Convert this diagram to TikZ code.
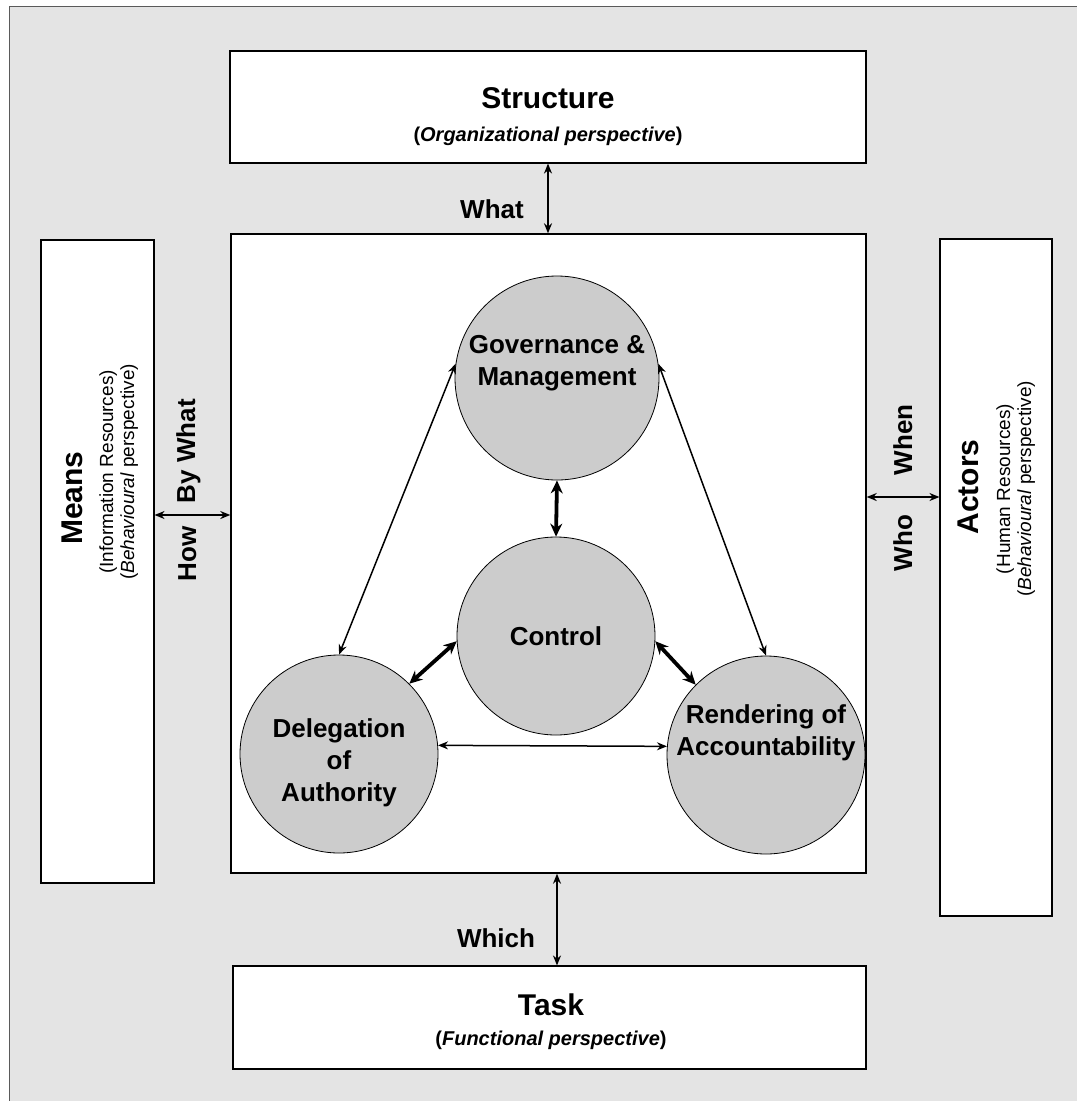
\documentclass[tikz,border=0pt]{standalone}
\usepackage{fontspec}
\setmainfont{Liberation Sans}
\usetikzlibrary{arrows.meta}
\definecolor{panel}{HTML}{E4E4E4}
\definecolor{discfill}{HTML}{CCCCCC}
\definecolor{rim}{HTML}{5A5A5A}

\begin{document}
\begin{tikzpicture}[x=1pt,y=-1pt,
  box/.style={draw=black,line width=1.1pt,fill=white,inner sep=0pt},
  disc/.style={circle,draw=black,line width=0.8pt,fill=discfill,minimum size=198pt,inner sep=0pt},
  disctext/.style={font=\fontsize{26}{32}\selectfont\bfseries,align=center,inner sep=0pt},
  tag/.style={font=\fontsize{26}{31}\selectfont\bfseries,inner sep=0pt,anchor=base},
  title/.style={font=\fontsize{30}{36}\selectfont\bfseries,inner sep=0pt,anchor=base},
  subtitle/.style={font=\fontsize{20}{24}\selectfont\bfseries,inner sep=0pt,anchor=base},
  sidetitle/.style={font=\fontsize{30}{36}\selectfont\bfseries,inner sep=0pt,anchor=base,rotate=90},
  sidesub/.style={font=\fontsize{19}{23}\selectfont,inner sep=0pt,anchor=base,rotate=90},
  thinlink/.style={line width=1.5pt,{Stealth[length=10pt,width=8pt]}-{Stealth[length=10pt,width=8pt]}},
  thicklink/.style={line width=3.8pt,{Stealth[length=13pt,width=12pt]}-{Stealth[length=13pt,width=12pt]}},
]
\useasboundingbox (0,0) rectangle (1077,1101);

% panel behind everything
\fill[panel] (9,6) rectangle (1077,1101);
\draw[rim,line width=1pt] (9,1101) -- (9,6) -- (1077,6);

% perspective boxes
\node[box,minimum width=636pt,minimum height=112pt] (struct) at (548,107) {};
\node[box,minimum width=633pt,minimum height=103pt] (task) at (549.5,1017.5) {};
\node[box,minimum width=113pt,minimum height=643pt] (means) at (97.5,561.5) {};
\node[box,minimum width=112pt,minimum height=677pt] (actors) at (996,577.5) {};
\node[box,line width=1.4pt,minimum width=635pt,minimum height=639pt] (core) at (548.5,553.5) {};

% box captions
\node[title] (structt) at (548,108) {Structure};
\node[subtitle] (structs) at (548,141) {(\textit{Organizational perspective})};
\node[title] (taskt) at (551,1015) {Task};
\node[subtitle] (tasks) at (551,1045) {(\textit{Functional perspective})};

\node[sidetitle] (meanst) at (82,498) {Means};
\node[sidesub] (meansa) at (113,472) {(Information Resources)};
\node[sidesub] (meansb) at (134,472) {(\textit{Behavioural} perspective)};

\node[sidetitle] (actorst) at (978,487) {Actors};
\node[sidesub] (actorsa) at (1010,489) {(Human Resources)};
\node[sidesub] (actorsb) at (1031,489) {(\textit{Behavioural} perspective)};

% the four discs
\node[disc,minimum size=204pt] (gov) at (557,378) {};
\node[disc] (ctrl) at (556,636) {};
\node[disc] (del) at (339,754) {};
\node[disc] (rend) at (766,755) {};

\node[disctext] (govt) at (557,363) {Governance \&\\Management};
\node[disctext] (ctrlt) at (556,636) {Control};
\node[disctext] (delt) at (339,763) {Delegation\\of\\Authority};
\node[disctext] (rendt) at (766,733) {Rendering of\\Accountability};

% links between discs
\draw[thinlink] (gov.172) -- (del.90);
\draw[thinlink] (gov.8) -- (rend.90);
\draw[thinlink] (del.5) -- (rend.175);
\draw[thicklink] (gov.south) -- (ctrl.north);
\draw[thicklink] (ctrl.183) -- (del.45);
\draw[thicklink] (ctrl.-3) -- (rend.135);

% links to the perspectives
\coordinate (mrow) at (0,515);
\coordinate (arow) at (0,497);
\draw[thinlink] (struct.south) -- (struct.south |- core.north);
\draw[thinlink] (core.south -| gov) -- (task.north -| gov);
\draw[thinlink] (means.east |- mrow) -- (core.west |- mrow);
\draw[thinlink] (core.east |- arow) -- (actors.west |- arow);

% question labels
\node[tag] (what) at (492,218) {What};
\node[tag] (which) at (496,947) {Which};
\node[tag,rotate=90] (bywhat) at (195,451) {By What};
\node[tag,rotate=90] (how) at (196,554) {How};
\node[tag,rotate=90] (when) at (912,440) {When};
\node[tag,rotate=90] (who) at (912,543) {Who};
\end{tikzpicture}
\end{document}
